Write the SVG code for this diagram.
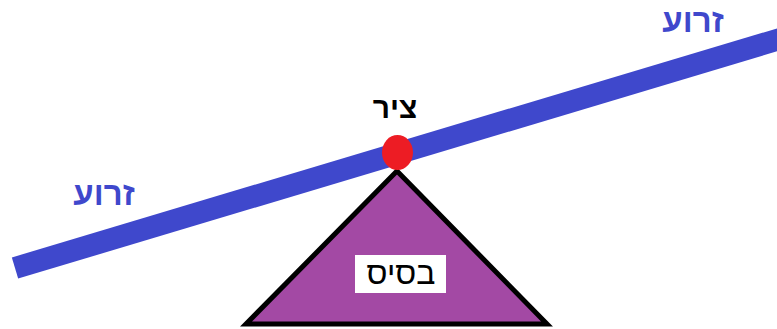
<svg xmlns="http://www.w3.org/2000/svg" width="777" height="329" viewBox="0 0 777 329">
<style>
.lbl{font-family:"Liberation Sans","DejaVu Sans",Arial,sans-serif;font-weight:bold;text-anchor:middle;direction:rtl}
.arm{fill:#3F48CC;font-size:33px}
</style>
<rect width="777" height="329" fill="#fff"/>
<g id="connectors">
<line x1="15" y1="268" x2="790" y2="36" stroke="#3F48CC" stroke-width="22" stroke-linecap="butt"/>
</g>
<g id="base">
<polygon points="397,171 246,324 547,324" fill="#A349A4" stroke="#000" stroke-width="5" stroke-linejoin="miter"/>
<rect x="355" y="255" width="91" height="38" fill="#fff"/>
<text class="lbl" x="401" y="284" font-size="32" style="font-weight:normal" fill="#000">בסיס</text>
</g>
<g id="pivot">
<ellipse cx="397.5" cy="152.5" rx="15.5" ry="17.5" fill="#ED1C24"/>
<text class="lbl" x="395" y="118" font-size="30" fill="#000">ציר</text>
</g>
<g id="arm-right"><text class="lbl arm" x="693" y="32">זרוע</text></g>
<g id="arm-left"><text class="lbl arm" x="104" y="205">זרוע</text></g>
</svg>
